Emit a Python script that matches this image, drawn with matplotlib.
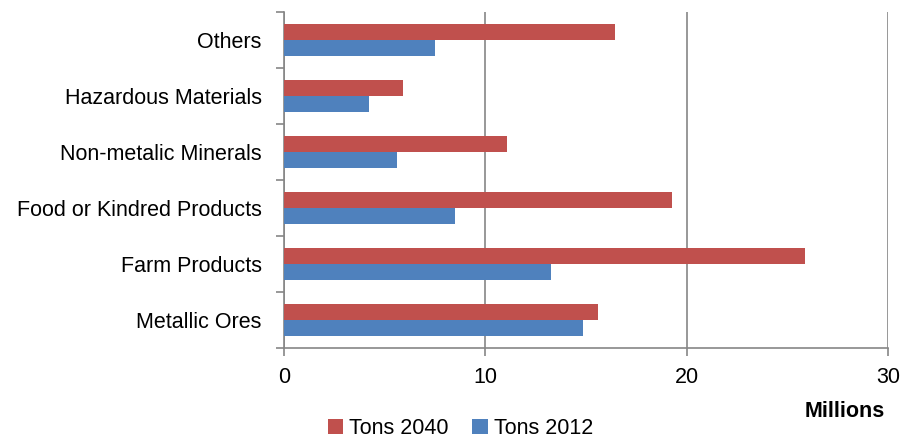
import matplotlib.pyplot as plt
import numpy as np

categories = ["Metallic Ores", "Farm Products", "Food or Kindred Products",
              "Non-metalic Minerals", "Hazardous Materials", "Others"]
tons_2040 = [15.6, 25.85, 19.25, 11.05, 5.9, 16.45]
tons_2012 = [14.85, 13.25, 8.5, 5.6, 4.2, 7.5]

plt.rcParams['font.family'] = ['Liberation Sans Narrow', 'Liberation Sans', 'DejaVu Sans']

fig = plt.figure(figsize=(9.03, 4.4), dpi=100)
ax = fig.add_axes([0.3145, 0.209, 0.669, 0.764])

y = np.arange(len(categories))
h = 0.283
ax.barh(y + h/2, tons_2040, h, color="#C0504D", label="Tons 2040", zorder=3)
ax.barh(y - h/2, tons_2012, h, color="#4F81BD", label="Tons 2012", zorder=3)

ax.set_xlim(0, 30)
ax.set_ylim(-0.5, len(categories) - 0.5)
ax.set_xticks([0, 10, 20, 30])
ax.grid(axis="x", color="#868686", linewidth=1.2, zorder=0)
ax.set_yticks(y)
ax.set_yticklabels(categories, fontsize=15.5)
ax.set_yticks(np.arange(-0.5, len(categories)), minor=True)
ax.tick_params(axis="y", which="major", length=0, pad=16)
ax.tick_params(axis="y", which="minor", length=6, color="#868686", width=1.2)
ax.tick_params(axis="x", length=6, color="#868686", width=1.2, labelsize=15.5, pad=8)

for s in ["top", "right"]:
    ax.spines[s].set_visible(False)
for s in ["left", "bottom"]:
    ax.spines[s].set_color("#868686")
    ax.spines[s].set_linewidth(1.2)

fig.text(0.935, 0.065, "Millions", fontsize=15.5, fontweight="bold", ha="center", va="center")

handles, labels = ax.get_legend_handles_labels()
fig.legend(handles, labels, loc="center", bbox_to_anchor=(0.51, 0.027), ncol=2, frameon=False,
           fontsize=15.5, handlelength=0.7, handleheight=0.7, handletextpad=0.3, columnspacing=1.1)

plt.savefig("out.png", dpi=100)
